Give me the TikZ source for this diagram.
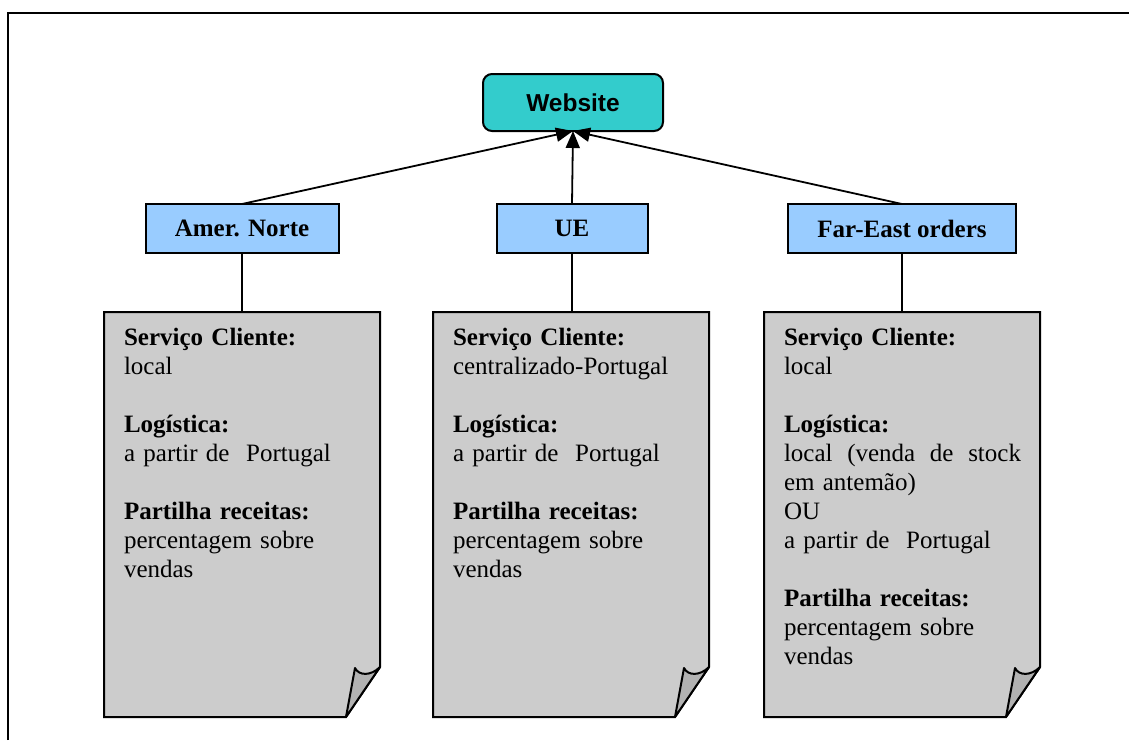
\documentclass[tikz,border=0pt]{standalone}
\usepackage{fontspec}
\setmainfont{Liberation Serif}
\newfontfamily\arialfont{Liberation Sans}
\usetikzlibrary{arrows.meta}
\definecolor{webteal}{HTML}{33CCCC}
\definecolor{regionblue}{HTML}{99CCFF}
\definecolor{notegray}{HTML}{CCCCCC}
\definecolor{flapgray}{HTML}{B2B2B2}

% folded sheet drawn around an invisible placeholder node
\newcommand\foldsheet[1]{%
  \path[notepath] (#1.north west) -- (#1.north east)
    -- ([yshift=50pt]#1.south east) -- ([xshift=-34pt]#1.south east)
    -- (#1.south west) -- cycle;
  \path[flap] ([xshift=-34pt]#1.south east)
    -- ([xshift=-25pt,yshift=49pt]#1.south east)
    .. controls ([xshift=-21pt,yshift=41pt]#1.south east)
       and ([xshift=-9pt,yshift=41pt]#1.south east)
    .. ([yshift=50pt]#1.south east) -- cycle;}

\begin{document}
\begin{tikzpicture}[x=1pt,y=-1pt,
  every node/.style={inner sep=0pt, outer sep=0pt},
  sitebox/.style={draw, line width=2pt, rounded corners=9pt, fill=webteal,
    minimum width=180pt, minimum height=57pt,
    font=\arialfont\bfseries\fontsize{24.5}{29}\selectfont},
  regionbox/.style={draw, line width=2pt, fill=regionblue, minimum height=49pt,
    font=\bfseries\fontsize{25}{29}\selectfont},
  notebox/.style={minimum width=276pt, minimum height=405pt},
  notetext/.style={anchor=north west, align=left, text width=245pt,
    font=\fontsize{25}{29}\selectfont},
  link/.style={line width=1.8pt},
  feed/.style={line width=1.8pt, -{Triangle[length=17pt,width=14pt]}},
  notepath/.style={draw, line width=2pt, fill=notegray, line join=miter},
  flap/.style={draw, line width=2pt, fill=flapgray, line join=round}]

\useasboundingbox (0,0) rectangle (1129,740);
\draw[line width=2pt] (8,740) -- (8,13) -- (1129,13);

% top node and regions
\node[sitebox] (web) at (573,102.5) {Website};
\node[regionbox, minimum width=193pt] (amer) at (242,228.5) {Amer. Norte};
\node[regionbox, minimum width=151pt] (ue) at (572,228.5) {UE};
\node[regionbox, minimum width=228pt] (far) at (902,228.5) {Far-East orders};

\draw[feed] (amer.north) -- (web.south);
\draw[feed] (ue.north) -- (web.south);
\draw[feed] (far.north) -- (web.south);

% region sheets
\node[notebox] (noteA) at (242,514.5) {};
\node[notebox] (noteB) at (571,514.5) {};
\node[notebox] (noteC) at (902,514.5) {};
\foldsheet{noteA}
\foldsheet{noteB}
\foldsheet{noteC}

\draw[link] (amer.south) -- (noteA.north);
\draw[link] (ue.south) -- (ue.south |- noteB.north);
\draw[link] (far.south) -- (noteC.north);

\node[notetext] (txtA) at ([xshift=20pt,yshift=-16pt]noteA.north west)
  {\textbf{Serviço Cliente:}\\ local\\[29pt]
   \textbf{Logística:}\\ a partir de\ \ Portugal\\[29pt]
   \textbf{Partilha receitas:}\\ percentagem sobre\\ vendas};
\node[notetext] (txtB) at ([xshift=20pt,yshift=-16pt]noteB.north west)
  {\textbf{Serviço Cliente:}\\ centralizado-Portugal\\[29pt]
   \textbf{Logística:}\\ a partir de\ \ Portugal\\[29pt]
   \textbf{Partilha receitas:}\\ percentagem sobre\\ vendas};
\node[notetext] (txtC) at ([xshift=20pt,yshift=-16pt]noteC.north west)
  {\textbf{Serviço Cliente:}\\ local\\[29pt]
   \textbf{Logística:}\\ \makebox[237pt][s]{local\hfill(venda\hfill de\hfill stock}\\
   em antemão)\\ OU\\ a partir de\ \ Portugal\\[29pt]
   \textbf{Partilha receitas:}\\ percentagem sobre\\ vendas};
\end{tikzpicture}
\end{document}
